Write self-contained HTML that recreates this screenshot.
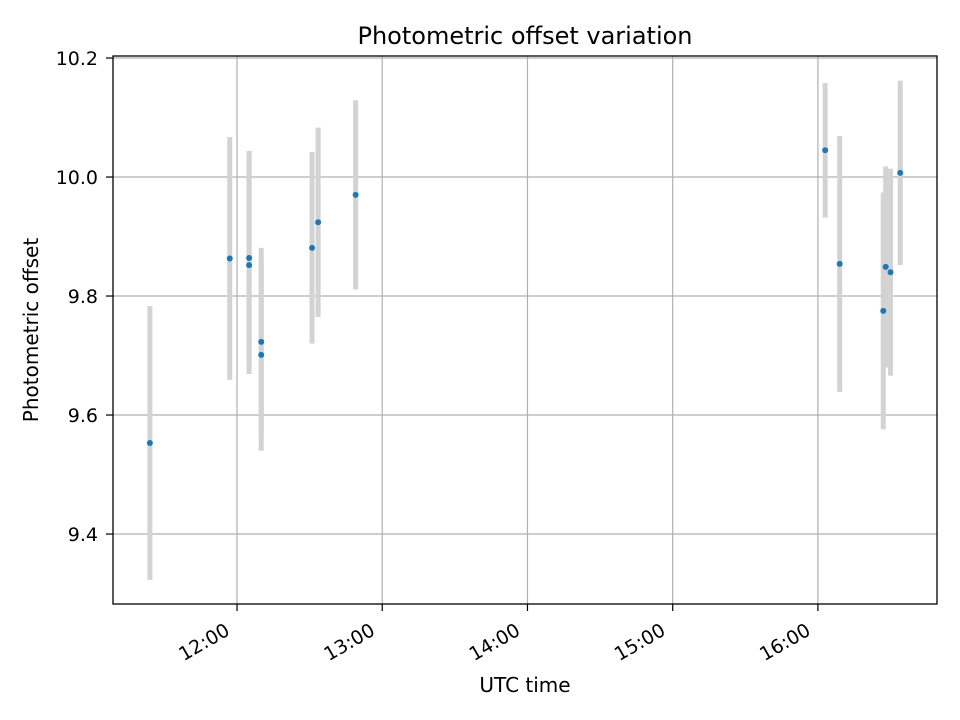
<!DOCTYPE html>
<html><head><meta charset="utf-8"><style>
body{margin:0;background:#fff;}
svg{display:block;font-family:"DejaVu Sans","Liberation Sans",sans-serif;}
</style></head><body>
<svg id="chart" width="960" height="720">
<rect width="960" height="720" fill="#fff"/>
<text x="525" y="44" text-anchor="middle" font-size="24">Photometric offset variation</text>
<g id="grid"></g><g id="bars"></g><g id="pts"></g><g id="ticks"></g>
<rect x="113" y="56" width="824" height="548" fill="none" stroke="#000" stroke-width="1.3"/>
<text x="525" y="692" text-anchor="middle" font-size="20">UTC time</text>
<text transform="translate(38,330) rotate(-90)" text-anchor="middle" font-size="20">Photometric offset</text>
</svg>
<script>
const times=["11:24","11:57","12:05","12:05","12:10","12:10","12:31","12:33.5","12:49","16:03","16:09","16:27","16:28","16:30","16:34"];
const offsets=[9.553,9.863,9.864,9.852,9.723,9.701,9.881,9.924,9.970,10.045,9.854,9.775,9.849,9.840,10.007];
const errors=[0.230,0.204,0.180,0.183,0.158,0.161,0.161,0.159,0.159,0.113,0.215,0.199,0.169,0.174,0.155];
const yTicks=[9.4,9.6,9.8,10.0,10.2];
const xTicks=["12:00","13:00","14:00","15:00","16:00"];
const NS="http://www.w3.org/2000/svg";
function hrs(s){const p=s.split(":");return +p[0]+ +p[1]/60;}
const L=113,R=937,T=56,B=604;
const x0=11.146,x1=16.82,y0=9.2824,y1=10.2034;
const sx=h=>L+(h-x0)/(x1-x0)*(R-L);
const sy=v=>B-(v-y0)/(y1-y0)*(B-T);
function mk(tag,a,parent){const e=document.createElementNS(NS,tag);for(const k in a)e.setAttribute(k,a[k]);document.getElementById(parent).appendChild(e);return e;}
yTicks.forEach(v=>{const y=sy(v);
const g=mk("line",{x1:L,x2:R,y1:y,y2:y,stroke:"#b0b0b0","stroke-width":1.2},"grid");


mk("line",{x1:L-7,x2:L,y1:y,y2:y,stroke:"#000","stroke-width":1.2},"ticks");
const t=mk("text",{x:L-15,y:y+7,"text-anchor":"end","font-size":19},"ticks");t.textContent=v.toFixed(1);

});
xTicks.forEach(s=>{const x=sx(hrs(s));
const g=mk("line",{x1:x,x2:x,y1:T,y2:B,stroke:"#b0b0b0","stroke-width":1.2},"grid");


mk("line",{x1:x,x2:x,y1:B,y2:B+7,stroke:"#000","stroke-width":1.2},"ticks");
const ex=x-6,ey=B+30;
const t=mk("text",{x:ex,y:ey,"text-anchor":"end","font-size":19,transform:`rotate(-30 ${ex} ${ey})`},"ticks");t.textContent=s;

});
times.forEach((s,i)=>{const x=sx(hrs(s));
const b=mk("line",{x1:x,x2:x,y1:sy(offsets[i]+errors[i]),y2:sy(offsets[i]-errors[i]),stroke:"#d3d3d3","stroke-width":5},"bars");


const c=mk("circle",{cx:x,cy:sy(offsets[i]),r:3,fill:"#1f77b4"},"pts");

});
</script>
</body></html>
